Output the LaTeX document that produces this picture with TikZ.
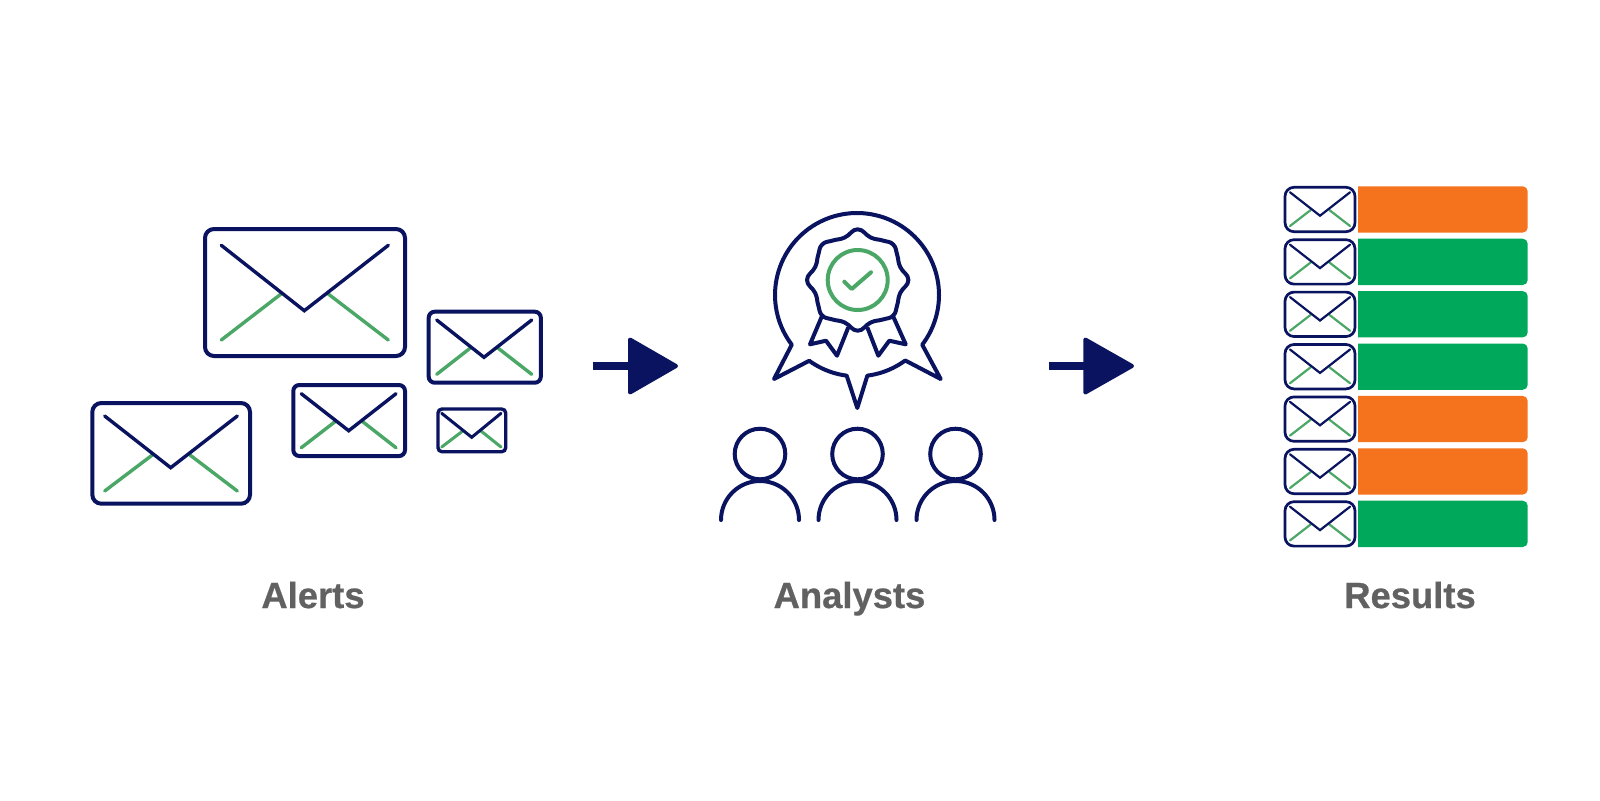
\documentclass[tikz,border=0pt]{standalone}
\usepackage{fontspec}
\setmainfont{Liberation Sans}
\newfontfamily\capfont[FakeBold=0.6]{Liberation Sans Bold}
\definecolor{navy}{HTML}{0A135F}
\definecolor{leaf}{HTML}{4BA766}
\definecolor{barorange}{HTML}{F5731C}
\definecolor{bargreen}{HTML}{00A85C}
\definecolor{labelgrey}{HTML}{616161}
\newcommand{\envbox}[5]{\draw[frameline,rounded corners=#5] (#1,#2) rectangle (#3,#4);}
% xL xR yTop yBottom xTip yTip xGreenL xGreenR yGreen
\newcommand{\envlines}[9]{%
  \draw[greenline] (#1,#4) -- (#7,#9);
  \draw[greenline] (#2,#4) -- (#8,#9);
  \draw[navyline] (#1,#3) -- (#5,#6) -- (#2,#3);}
\newcommand{\rowenv}[1]{%
  \begin{scope}[yshift=#1*-26.2pt]
    \envbox{1285}{187.3}{1355}{231.7}{4.5pt}
    \envlines{1290}{1350}{192.3}{226}{1320}{215.7}{1310.7}{1329.3}{210}
  \end{scope}}
\newcommand{\rowbar}[2]{%
  \fill[#2,yshift=#1*-26.2pt] (1358,186.3) {[rounded corners=2.5pt] -- (1527.7,186.3) -- (1527.7,232.6)} -- (1358,232.6) -- cycle;}
\newcommand{\person}[1]{%
  \draw[badge] (#1,454) circle[radius=25.3];
  \draw[badge,line cap=round] plot[domain=180:360,samples=49] ({#1+39*cos(\x)},{520+39*sin(\x)});}
\tikzset{
  frameline/.style={draw=navy,line width=\fw},
  navyline/.style={draw=navy,line width=\lw,line cap=round,line join=miter},
  greenline/.style={draw=leaf,line width=\lw,line cap=round},
  badge/.style={draw=navy,line width=2pt,line join=round},
  check/.style={draw=leaf,line width=2pt,line join=round,line cap=round},
  flow/.style={draw=navy,fill=navy,line width=2pt,line join=round},
  shaft/.style={draw=navy,line width=3.7pt},
  caption/.style={font=\capfont\fontsize{18.2}{20}\selectfont,text=labelgrey,anchor=base,inner sep=0pt}
}
\begin{document}
\begin{tikzpicture}[x=0.5pt,y=-0.5pt]
\useasboundingbox (0,0) rectangle (1600,800);
\fill[white] (0,0) rectangle (1600,800);
% Alerts envelopes
\def\fw{2pt}\def\lw{1.7pt}
\envbox{205}{229}{405}{356}{4.5pt}
\envlines{221.3}{388.3}{245.3}{340}{304.3}{310.7}{281}{328.3}{294}
\envbox{92.3}{403}{250}{503.7}{4.5pt}
\envlines{104.7}{237.3}{416}{491}{170.7}{467.7}{152.3}{190}{455}
\envbox{293.3}{385}{405}{456}{3pt}
\envlines{301.3}{396}{393.7}{447.7}{348.7}{430.7}{335}{362.7}{421.7}
\envbox{428.7}{311.7}{540.8}{382.7}{3pt}
\envlines{436.7}{531.7}{320}{374.3}{484}{357.3}{470}{498.3}{348.3}
\def\fw{1.7pt}\def\lw{1.5pt}
\envbox{438}{409}{505.7}{451.7}{2pt}
\envlines{441.7}{501}{413.3}{447}{471.7}{437.3}{462.7}{481}{431}
% arrows
\coordinate (a1s) at (592.7,366);
\coordinate (a1h) at (630,366);
\coordinate (a2s) at (1048.7,366);
\coordinate (a2h) at (1085.3,366);
\draw[shaft] (a1s) -- (a1h);
\draw[flow] (630,339.5) -- (676,366) -- (630,392.5) -- cycle;
\draw[shaft] (a2s) -- (a2h);
\draw[flow] (1085.3,339.5) -- (1132,366) -- (1085.3,392.5) -- cycle;
% badge
\draw[badge] plot[domain=142.7:397.3,samples=90] ({857+82*cos(\x)},{295+82*sin(\x)})
  -- (940.7,379) -- (905.7,360.7)
  -- plot[domain=54:82.7,samples=12] ({857+81.3*cos(\x)},{295+81.3*sin(\x)})
  -- (857.3,408)
  -- plot[domain=97.3:126,samples=12] ({857+81.3*cos(\x)},{295+81.3*sin(\x)})
  -- (774,379) -- cycle;
\begin{scope}[shift={(857.7,280)}]
\draw[badge] plot[smooth cycle,tension=0.8] coordinates {
 (0,-50.7) (-13,-42.5) (-25,-39.5) (-35.5,-35.5) (-39.5,-25) (-42.5,-13)
 (-50.7,0) (-42.5,13) (-39.5,25) (-35.5,35.5) (-25,39.5) (-13,42.5)
 (0,50.7) (13,42.5) (25,39.5) (35.5,35.5) (39.5,25) (42.5,13)
 (50.7,0) (42.5,-13) (39.5,-25) (35.5,-35.5) (25,-39.5) (13,-42.5)};
\end{scope}
\draw[badge] (821.7,316.7) -- (810,344.3) -- (826,340.7) -- (837,355.7) -- (848.3,327.3);
\draw[badge] (893.3,316.7) -- (905.7,344.3) -- (889.3,340.7) -- (878.3,355.7) -- (867.3,327.3);
\draw[check] (857.7,280) circle[radius=30];
\draw[check] (844.3,281.7) -- (851.7,289) -- (871,272.3);
% analysts
\person{760}
\person{857.5}
\person{955.5}
% results
\def\fw{1.35pt}\def\lw{1.1pt}
\rowbar{0}{barorange}\rowbar{1}{bargreen}\rowbar{2}{bargreen}\rowbar{3}{bargreen}\rowbar{4}{barorange}\rowbar{5}{barorange}\rowbar{6}{bargreen}
\rowenv{0}\rowenv{1}\rowenv{2}\rowenv{3}\rowenv{4}\rowenv{5}\rowenv{6}
% captions
\node[caption] (alerts) at (313,608) {Alerts};
\node[caption] (analysts) at (849.5,608) {Analysts};
\node[caption] (results) at (1410,608) {Results};
\end{tikzpicture}
\end{document}
